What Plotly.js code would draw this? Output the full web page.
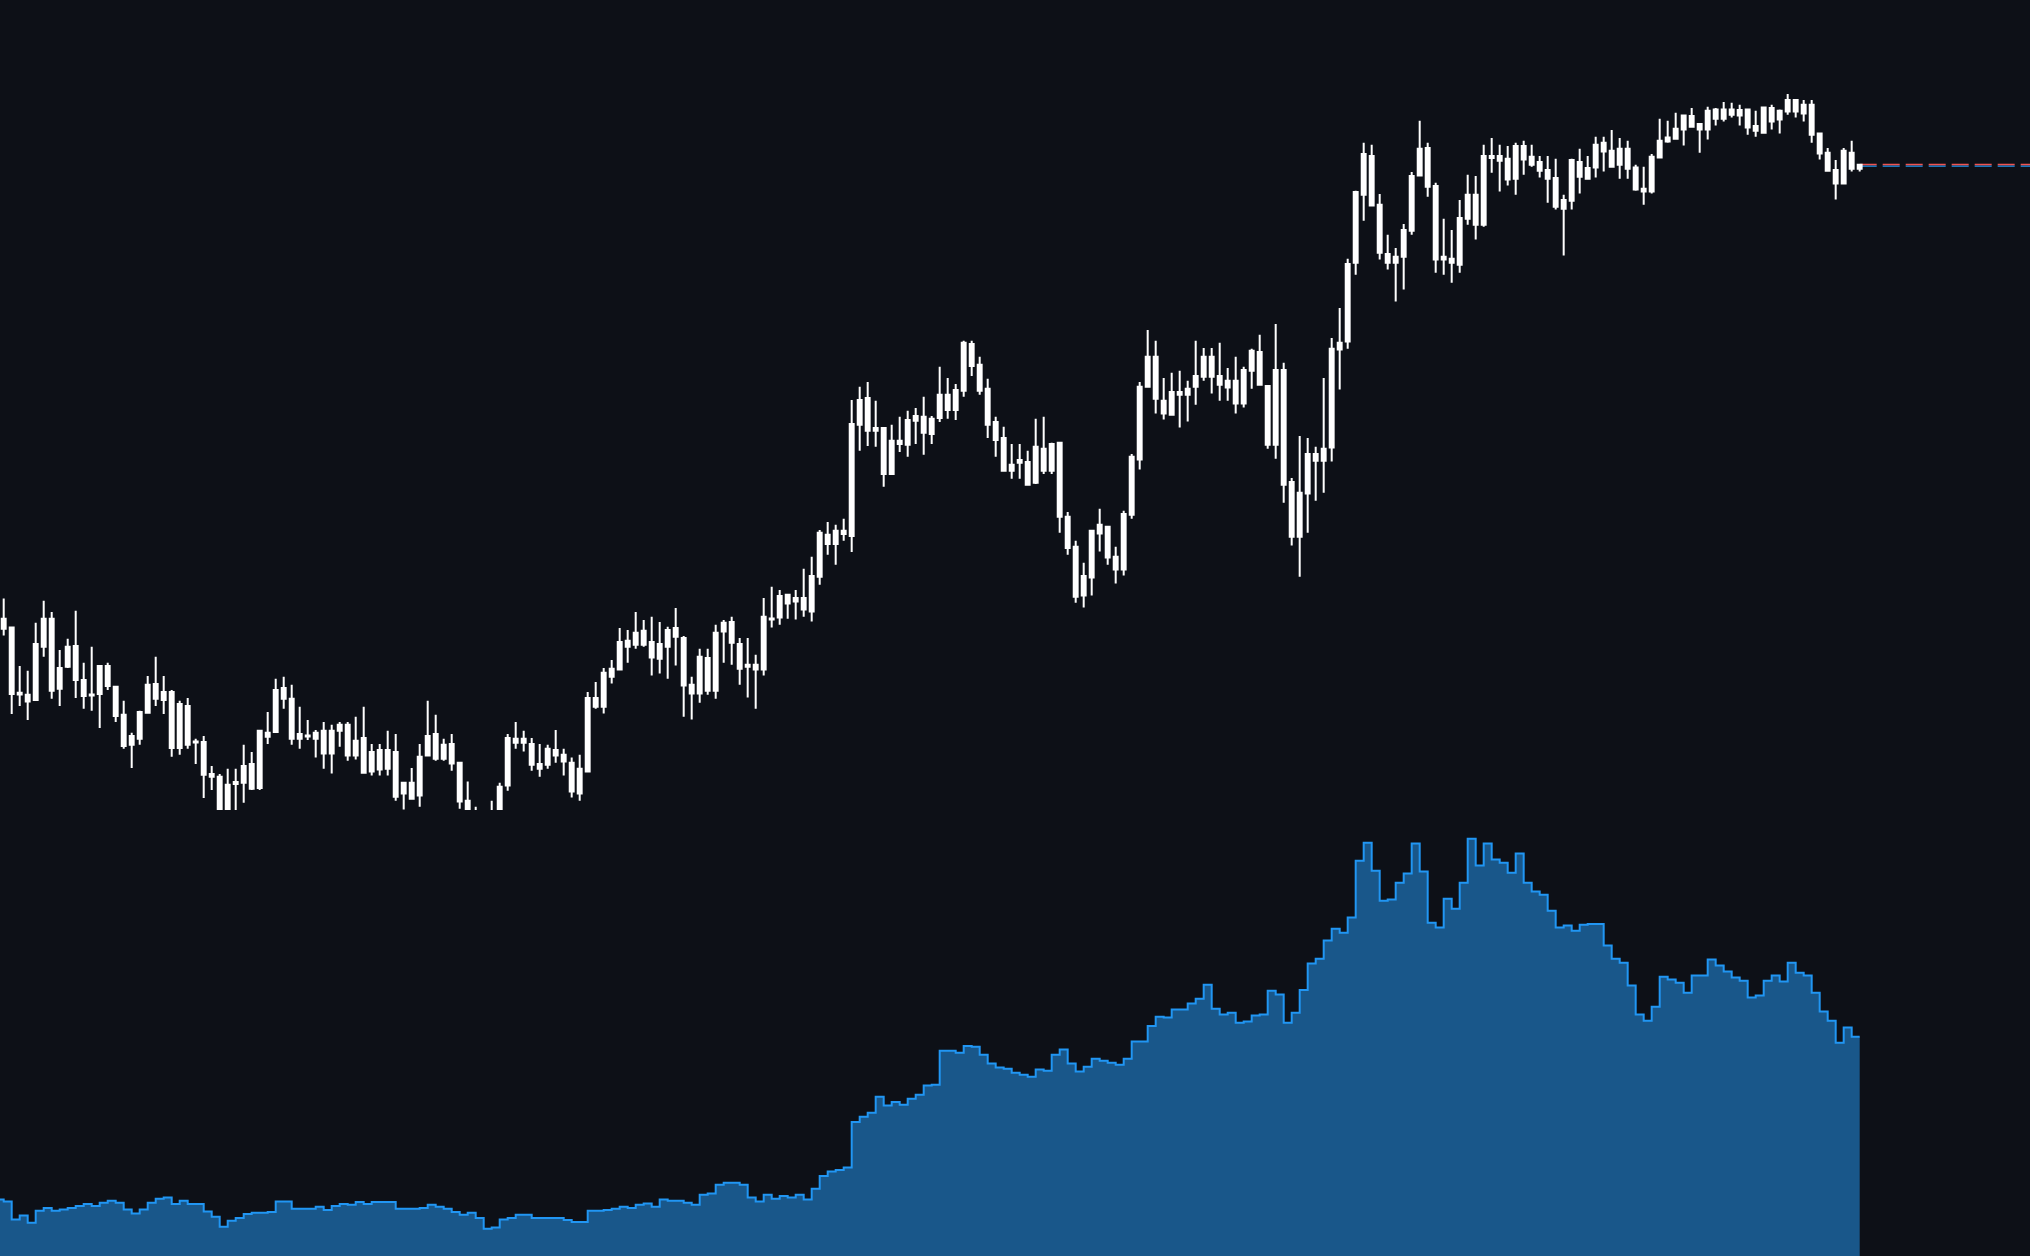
<!DOCTYPE html>
<html>
<head>
<meta charset="utf-8">
<script src="https://cdn.plot.ly/plotly-3.0.1.min.js"></script>
<style>
html,body{margin:0;padding:0;background:#0d1017;}
#chart{width:2030px;height:1256px;}
</style>
</head>
<body>
<div id="chart"></div>
<script>
// ---- Candle data (one candle per period, index 0..232) ----
const open = [
156.8,157.1,140.4,140.3,139.0,152.3,159.3,141.8,147.3,152.5,
144.0,140.1,140.5,147.5,142.3,135.3,127.8,129.3,135.8,143.0,
139.0,141.0,127.0,137.5,128.4,128.5,120.5,119.8,110.3,118.0,
118.3,123.0,117.0,130.8,131.0,142.0,139.3,129.3,130.1,129.3,
131.3,125.6,131.3,132.8,125.1,129.5,121.1,126.5,121.8,126.0,
115.6,118.3,115.1,125.1,130.5,124.3,128.0,123.3,113.8,109.5,
106.5,107.8,109.5,117.6,129.3,128.3,128.0,123.0,122.8,126.5,
125.3,123.3,115.6,121.1,139.5,137.3,144.8,146.6,153.8,152.8,
156.3,153.5,149.3,152.3,157.0,154.5,142.8,140.6,149.5,141.3,
156.1,158.5,153.0,147.3,147.8,146.6,159.4,159.6,165.3,163.6,
164.5,161.1,169.8,180.3,178.0,181.3,180.0,207.8,214.5,206.3,
207.0,195.5,203.8,202.8,208.8,209.8,205.5,209.5,215.3,211.5,
216.3,228.0,222.8,216.8,208.5,204.5,196.3,198.3,198.5,193.3,
201.8,196.3,203.3,184.8,177.3,165.1,169.6,180.6,182.3,174.8,
171.6,185.3,199.1,217.3,224.8,213.8,210.3,216.0,215.3,217.3,
219.8,224.8,220.0,217.1,218.8,213.1,221.3,226.0,217.5,202.8,
221.5,193.5,179.8,190.6,200.5,198.8,202.1,226.6,228.6,248.3,
265.3,275.0,262.8,250.5,248.3,249.8,256.3,270.1,277.0,267.5,
249.1,249.3,247.8,259.3,265.3,257.8,275.0,275.0,274.3,269.3,
277.5,274.8,273.5,271.5,269.5,261.8,263.8,273.5,269.3,272.1,
278.3,276.3,272.8,276.8,272.1,266.8,266.1,274.6,278.6,279.3,
281.6,285.0,283.0,281.6,286.6,284.3,286.6,285.1,286.6,282.5,
280.8,287.0,284.1,286.1,289.0,285.6,287.8,280.6,275.8,271.5,
268.1,275.8,271.8
];
const high = [
164.4,157.3,147.5,146.3,158.3,163.8,161.0,151.5,154.3,161.3,
148.3,152.3,147.5,148.3,142.3,138.8,130.8,136.3,145.0,149.8,
145.0,141.5,138.8,139.5,129.3,130.0,122.5,120.5,121.8,121.8,
127.8,126.0,131.5,136.0,144.3,144.8,142.8,137.3,134.0,131.5,
133.5,132.8,133.5,133.5,134.8,137.3,128.0,128.0,131.3,130.5,
118.3,122.0,128.0,138.8,135.3,129.3,130.5,123.3,118.6,112.3,
110.3,113.8,118.3,130.5,133.5,131.3,129.5,128.0,127.8,131.5,
126.8,124.6,125.3,141.0,143.5,147.0,149.0,157.0,156.5,161.0,
159.0,159.8,158.5,157.3,162.0,155.0,144.8,151.8,151.8,157.8,
159.0,159.8,154.5,154.5,150.3,164.5,167.3,166.5,165.3,166.5,
171.8,174.8,181.5,183.5,182.8,184.3,214.0,217.3,218.5,213.8,
207.0,207.8,209.8,211.3,212.0,214.8,210.0,222.3,219.5,218.0,
228.8,228.8,224.8,219.3,209.8,207.3,203.0,203.0,201.3,209.3,
209.8,203.3,203.3,186.0,178.8,173.3,181.5,186.8,182.3,177.3,
186.3,200.5,218.5,231.5,228.8,219.5,220.8,221.3,218.8,228.8,
227.0,227.0,228.3,222.0,224.8,222.3,226.8,230.3,217.5,233.0,
223.3,194.5,205.0,204.5,202.3,219.5,229.5,237.0,249.3,266.3,
278.3,277.8,265.5,255.3,252.0,258.0,271.0,283.8,278.3,268.3,
259.3,256.5,264.0,270.3,270.0,277.8,279.5,277.8,277.5,278.3,
278.8,277.8,275.0,275.0,274.3,265.3,274.3,276.8,275.0,279.8,
279.8,281.5,279.5,278.8,272.8,272.3,275.5,284.3,283.8,285.8,
285.3,287.0,283.0,287.3,287.0,288.5,288.3,287.8,286.6,286.3,
287.3,287.8,286.6,290.5,289.0,289.0,289.0,280.6,277.0,274.0,
277.0,278.8,273.0
];
const low = [
155.1,135.5,137.5,134.0,139.0,149.8,139.3,137.5,147.0,139.5,
136.8,136.3,132.0,141.5,133.5,126.8,122.0,127.8,135.8,137.5,
135.5,124.8,125.3,126.8,123.0,114.5,116.5,108.5,109.5,110.0,
113.3,116.5,116.5,128.0,130.8,136.8,127.8,126.8,129.0,124.6,
121.8,120.6,127.3,123.8,124.1,120.6,120.1,120.1,120.1,113.8,
111.6,114.3,112.3,125.1,123.8,123.8,121.3,111.8,107.5,105.3,
104.0,106.0,108.0,116.3,126.8,126.1,121.3,119.8,121.8,123.3,
120.1,114.6,113.8,121.1,136.8,135.6,143.1,146.6,148.3,151.8,
152.3,145.1,145.6,144.3,147.6,134.8,134.1,138.3,140.3,139.3,
148.3,147.8,142.8,139.6,136.8,145.1,157.1,157.8,159.3,159.1,
159.8,158.6,167.8,175.3,172.8,178.8,176.0,201.3,202.5,202.3,
192.3,195.5,201.0,199.8,203.0,200.3,203.0,208.5,209.3,209.0,
214.8,220.0,215.3,204.5,199.8,196.3,194.3,194.3,192.8,193.0,
195.5,195.5,180.8,175.3,163.3,162.1,165.1,176.1,172.8,168.1,
170.1,184.3,196.6,217.3,210.6,209.1,210.3,207.1,208.6,212.8,
218.8,215.6,213.8,213.8,210.6,212.1,216.8,217.8,201.8,199.3,
188.3,177.6,169.8,180.8,188.8,190.8,198.6,216.6,226.8,245.3,
258.8,262.6,249.1,246.6,238.6,241.6,255.3,270.1,264.8,245.8,
245.3,243.3,245.8,257.8,254.1,257.3,270.8,266.1,267.6,265.3,
270.3,272.3,269.6,263.3,261.6,250.1,261.6,265.6,269.3,269.6,
271.1,272.1,269.3,269.3,266.3,262.8,265.6,274.6,278.3,279.1,
277.6,282.3,275.8,279.1,282.6,283.6,284.6,282.6,280.3,279.8,
280.8,281.6,280.6,285.3,284.6,283.6,278.3,274.1,271.1,264.1,
268.1,271.1,271.1
];
const close = [
159.3,140.5,140.8,138.6,153.0,159.3,141.3,147.0,152.3,144.0,
140.0,140.4,147.5,142.5,135.0,127.5,130.0,136.0,142.8,139.3,
141.0,127.0,138.0,127.8,128.6,120.3,119.8,110.3,117.8,118.5,
122.5,116.8,131.3,129.8,141.5,139.3,129.3,130.5,129.9,130.8,
125.6,131.3,132.8,125.1,128.8,120.8,126.0,121.6,126.5,114.8,
118.3,114.3,124.8,130.0,124.3,127.8,123.1,113.6,109.0,107.0,
108.5,110.3,117.3,129.5,128.3,129.3,122.8,121.8,126.8,125.1,
123.6,116.1,121.8,139.5,137.3,145.8,146.8,153.5,152.3,155.8,
152.8,149.6,153.0,156.5,154.8,142.6,140.6,149.8,141.3,155.8,
158.3,153.3,146.8,147.8,146.6,159.8,159.1,165.0,163.1,164.5,
161.6,170.0,180.8,178.0,181.3,180.5,208.0,214.0,206.3,207.0,
195.5,203.8,203.0,209.0,210.0,205.8,209.3,215.3,211.5,216.5,
228.3,222.5,216.3,207.8,204.0,196.3,197.8,199.0,192.8,202.3,
196.3,203.0,184.8,177.0,164.8,170.0,181.3,182.8,174.6,171.6,
185.5,199.8,217.3,224.8,214.3,210.6,216.0,215.3,216.8,220.0,
224.8,219.8,217.8,218.8,213.1,221.5,226.3,217.8,202.8,221.5,
192.8,179.8,190.8,200.5,198.8,201.8,226.8,228.3,248.0,266.0,
275.5,262.6,250.8,248.3,249.8,256.5,270.0,276.8,267.3,249.1,
249.8,248.3,259.5,265.3,257.8,275.0,274.5,273.8,269.1,277.5,
274.1,272.8,271.3,269.3,262.3,264.0,274.0,269.8,272.0,277.8,
276.1,272.3,276.8,271.8,266.6,266.1,274.8,278.8,279.6,281.8,
285.1,282.3,281.6,286.3,284.3,286.6,285.3,286.5,282.1,281.3,
287.1,283.6,286.3,289.0,286.1,287.8,280.3,275.6,271.3,268.1,
276.3,271.8,272.8
];
// ---- Lower panel step series (starts one period before the first candle) ----
const volume = [
14.1,
13.6,9.1,10.1,8.3,11.3,12.0,11.3,11.6,12.0,12.5,
13.0,12.5,13.3,13.8,13.3,11.6,10.6,11.6,13.3,14.3,
14.6,13.0,13.8,13.0,13.0,11.1,9.8,7.3,8.8,9.5,
10.5,10.8,10.8,11.0,13.6,13.6,11.8,11.8,11.8,12.3,
11.5,12.5,13.0,12.8,13.5,13.0,13.5,13.5,13.5,11.8,
11.8,11.8,12.0,12.8,12.3,11.8,11.0,10.3,10.8,9.5,
6.8,7.1,9.1,9.5,10.3,10.3,9.5,9.5,9.5,9.5,
9.0,8.5,8.5,11.3,11.3,11.5,11.8,12.3,12.0,12.8,
13.1,12.3,14.1,13.8,13.8,13.3,12.8,15.3,15.6,17.8,
18.3,18.3,17.8,14.6,13.6,15.3,14.3,15.0,14.6,15.3,
14.1,16.8,20.0,21.1,21.5,22.1,33.5,34.8,35.8,39.8,
37.6,38.5,37.8,39.3,40.3,42.6,42.8,51.3,51.3,50.8,
52.5,52.3,50.3,48.1,47.1,46.8,45.8,45.3,44.8,46.6,
46.3,50.3,51.6,48.1,46.1,47.3,49.3,48.8,48.3,47.8,
49.3,53.6,53.6,57.5,59.8,59.6,61.6,61.6,63.1,64.3,
67.8,61.8,60.4,60.8,58.3,58.6,60.1,60.4,66.3,65.4,
58.3,60.8,66.5,73.1,74.3,78.9,81.8,80.8,84.6,98.8,
103.3,96.3,88.8,89.1,93.3,95.6,103.1,96.1,83.3,82.1,
89.3,86.8,93.3,104.3,97.6,103.1,99.1,98.3,95.8,100.6,
93.3,91.1,90.3,86.3,82.1,82.6,81.3,82.8,83.0,83.0,
77.6,74.3,73.3,67.6,60.4,58.8,62.3,69.8,69.1,68.3,
65.8,70.1,70.1,74.1,72.6,71.1,69.6,68.8,64.6,65.1,
68.8,70.1,68.6,73.3,70.8,70.1,65.8,61.1,58.8,53.3,
57.1,54.8,54.8
];

const idx = open.map((_, i) => i);
const volIdx = volume.map((_, i) => i - 1);
const lastIdx = idx[idx.length - 1];
const lastClose = close[close.length - 1];

const white = '#ffffff';
const candles = {
  type: 'candlestick',
  x: idx, open: open, high: high, low: low, close: close,
  xaxis: 'x', yaxis: 'y',
  increasing: {line: {color: white, width: 2}, fillcolor: white},
  decreasing: {line: {color: white, width: 2}, fillcolor: white},
  hoverinfo: 'skip', showlegend: false
};
const vol = {
  type: 'scatter', mode: 'lines',
  x: volIdx, y: volume,
  xaxis: 'x', yaxis: 'y2',
  line: {shape: 'hv', color: '#2196f3', width: 2},
  fill: 'tozeroy', fillcolor: '#19578a',
  hoverinfo: 'skip', showlegend: false
};

const layout = {
  width: 2030, height: 1256,
  margin: {l: 0, r: 0, t: 0, b: 0, pad: 0},
  paper_bgcolor: '#0d1017', plot_bgcolor: '#0d1017',
  showlegend: false,
  xaxis: {range: [-0.4625, 253.29], visible: false, showgrid: false, zeroline: false,
          rangeslider: {visible: false}, fixedrange: true},
  yaxis: {domain: [0.3551, 1], range: [111.5, 314], visible: false, showgrid: false, zeroline: false, fixedrange: true},
  yaxis2: {domain: [0, 0.3352], range: [0, 105.25], anchor: 'x', visible: false, showgrid: false, zeroline: false, fixedrange: true},
  shapes: [
    {type: 'line', xref: 'x', yref: 'y', layer: 'below',
     x0: lastIdx, x1: 260, ysizemode: 'pixel', yanchor: lastClose, y0: -1.3, y1: -1.3,
     line: {color: '#2196f3', width: 1.3, dash: '17px,6px'}},
    {type: 'line', xref: 'x', yref: 'y', layer: 'below',
     x0: lastIdx, x1: 260, ysizemode: 'pixel', yanchor: lastClose, y0: 0.2, y1: 0.2,
     line: {color: '#ef5350', width: 1.5, dash: '17px,6px'}}
  ]
};

Plotly.newPlot('chart', [vol, candles], layout, {displayModeBar: false, staticPlot: true});
</script>
</body>
</html>
